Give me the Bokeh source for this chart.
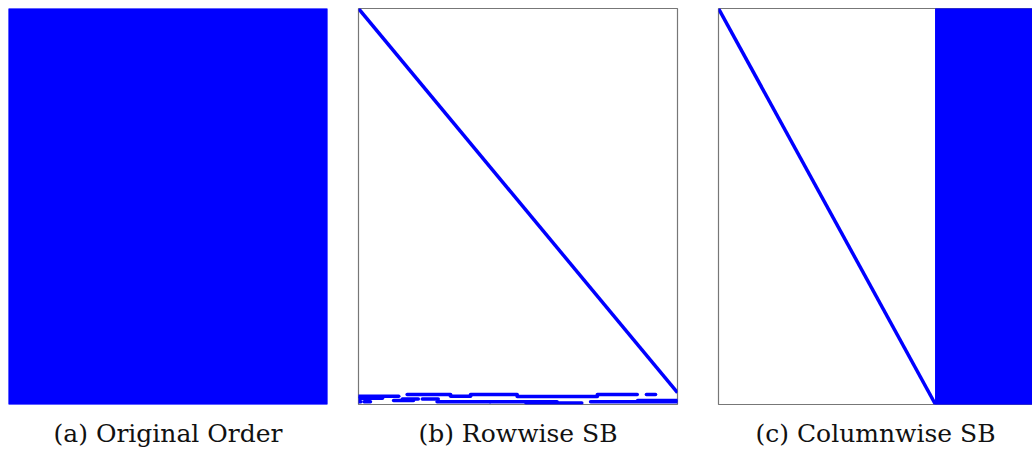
from bokeh.plotting import figure
from bokeh.layouts import row
from bokeh.models import Range1d, Title
from bokeh.embed import file_html
from bokeh.resources import INLINE

# ---- data: sparsity patterns (matrix rows x columns) ----
n_rows = 1000
n_cols = 800
captions = ["(a) Original Order", "(b) Rowwise SB", "(c) Columnwise SB"]

# (a) original order: fully dense block
orig_block_cols = [0, 800]
orig_block_rows = [0, 1000]

# (b) rowwise SB: diagonal + border rows
rowwise_diag_rows = [0, 970]
rowwise_diag_cols = [0, 800]
rowwise_border_row = [979, 975, 979, 975, 980, 975, 975, 984, 986, 993, 993, 990, 986, 993, 993, 996, 993, 990]
rowwise_border_c0 = [0, 122, 231, 281, 398, 599, 722, 0, 160, 0, 14, 88, 110, 197, 330, 420, 582, 700]
rowwise_border_c1 = [101, 231, 281, 398, 599, 699, 745, 60, 200, 6, 30, 138, 150, 330, 498, 560, 800, 800]

# (c) columnwise SB: diagonal + dense border columns
colwise_diag_rows = [0, 1000]
colwise_diag_cols = [0, 544]
colwise_block_cols = [544, 800]
colwise_block_rows = [0, 1000]
colwise_visible_cols = 787

BLUE = "#0000ff"
FRAME = "#777777"
H = 459


def make_fig(width, left, right, x_end):
    p = figure(width=width, height=H, output_backend="svg", toolbar_location=None,
               x_axis_location=None, y_axis_location=None,
               x_range=Range1d(0, x_end), y_range=Range1d(n_rows, 0),
               min_border_left=left, min_border_right=right,
               min_border_top=8, min_border_bottom=54)
    p.grid.visible = False
    p.outline_line_color = FRAME
    p.outline_line_width = 1.2
    p.background_fill_color = "white"
    p.border_fill_color = "white"
    return p


def add_caption(p, text):
    t = Title(text=text, align="center", text_font="DejaVu Serif",
              text_font_size="25px", text_font_style="normal",
              text_color="#111111", standoff=24)
    p.add_layout(t, "below")


pa = make_fig(342, 8, 15, n_cols)
pa.quad(left=orig_block_cols[0], right=orig_block_cols[1],
        top=orig_block_rows[0], bottom=orig_block_rows[1],
        fill_color=BLUE, line_color=BLUE)
pa.outline_line_color = None
add_caption(pa, captions[0])

pb = make_fig(355, 16, 20, n_cols)
pb.line(rowwise_diag_cols, rowwise_diag_rows, line_color=BLUE, line_width=3.5)
pb.segment(x0=rowwise_border_c0, x1=rowwise_border_c1,
           y0=rowwise_border_row, y1=rowwise_border_row,
           line_color=BLUE, line_width=3.5, line_cap="round")
add_caption(pb, captions[1])

pc = make_fig(335, 21, 0, colwise_visible_cols)
pc.quad(left=colwise_block_cols[0], right=colwise_block_cols[1],
        top=colwise_block_rows[0], bottom=colwise_block_rows[1],
        fill_color=BLUE, line_color=BLUE)
pc.line(colwise_diag_cols, colwise_diag_rows, line_color=BLUE, line_width=3.5)
add_caption(pc, captions[2])

layout = row(pa, pb, pc)
open("out.html", "w").write(file_html(layout, INLINE))
